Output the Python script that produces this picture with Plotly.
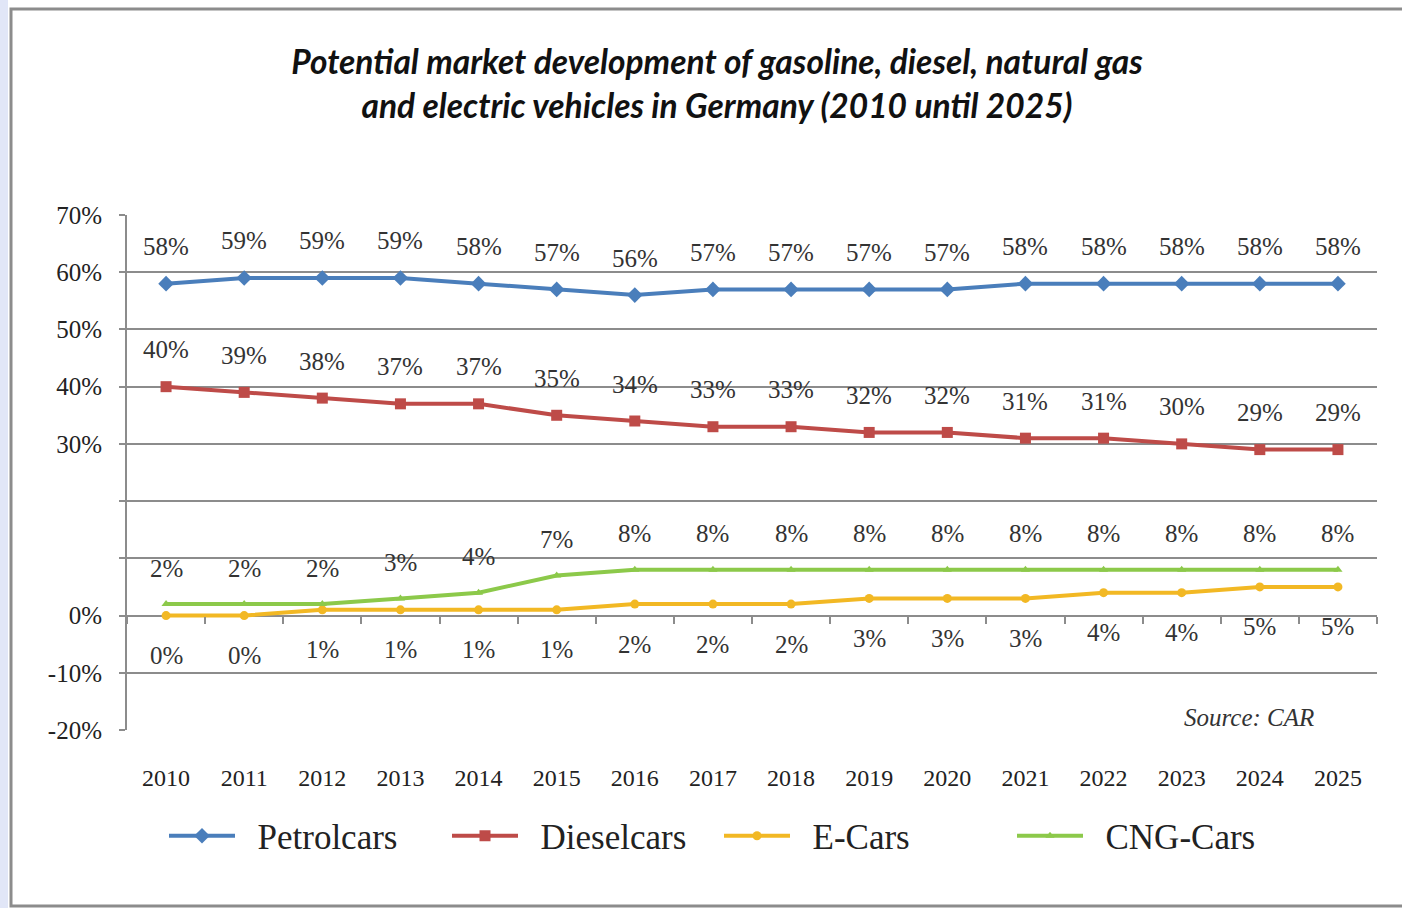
import plotly.graph_objects as go

years = ["2010", "2011", "2012", "2013", "2014", "2015", "2016", "2017",
         "2018", "2019", "2020", "2021", "2022", "2023", "2024", "2025"]
petrol = [58, 59, 59, 59, 58, 57, 56, 57, 57, 57, 57, 58, 58, 58, 58, 58]
diesel = [40, 39, 38, 37, 37, 35, 34, 33, 33, 32, 32, 31, 31, 30, 29, 29]
ecars = [0, 0, 1, 1, 1, 1, 2, 2, 2, 3, 3, 3, 4, 4, 5, 5]
cng = [2, 2, 2, 3, 4, 7, 8, 8, 8, 8, 8, 8, 8, 8, 8, 8]

y_ticks = [-20, -10, 0, 10, 20, 30, 40, 50, 60, 70]
y_ticktext = ["-20%", "-10%", "0%", "", "", "30%", "40%", "50%", "60%", "70%"]

xi = list(range(len(years)))
SERIF = "Liberation Serif, Times New Roman, serif"

series = [
    ("Petrolcars", petrol, "#4a7ebb", "diamond", 12, 37, "legend"),
    ("Dieselcars", diesel, "#be4b48", "square", 11, 37, "legend2"),
    ("E-Cars", ecars, "#f2b824", "circle", 9, -40, "legend3"),
    ("CNG-Cars", cng, "#8cc94a", "triangle-up", 8, 36, "legend4"),
]

fig = go.Figure()
annotations = []
for name, vals, color, sym, msize, shift, leg in series:
    fig.add_trace(go.Scatter(
        x=xi, y=vals, name="&nbsp;&nbsp;" + name, mode="lines+markers",
        line=dict(color=color, width=4),
        marker=dict(symbol=sym, size=msize, color=color),
        legend=leg, hoverinfo="skip",
    ))
    for xv, yv in zip(xi, vals):
        annotations.append(dict(
            x=xv, y=yv, text=f"{yv}%", showarrow=False, yshift=shift,
            font=dict(family=SERIF, size=25, color="#333333"),
        ))

# helper trace for tick marks along the 0% line
fig.add_trace(go.Scatter(x=[0], y=[None], xaxis="x2", yaxis="y",
                         showlegend=False, hoverinfo="skip", mode="markers"))

L, R, T, B = 127, 25, 215, 178
PW, PH = 1402 - L - R, 908 - T - B

def px_x(p):
    return (p - L) / PW

def px_y(p):
    return (908 - B - p) / PH

annotations.append(dict(
    xref="paper", yref="paper", x=px_x(1316), y=px_y(733), xanchor="right", yanchor="bottom",
    text="<i>Source: CAR</i>", showarrow=False,
    font=dict(family=SERIF, size=25, color="#333333"),
))

shapes = [
    dict(type="rect", xref="paper", yref="paper", layer="below",
         x0=px_x(-5), x1=px_x(8), y0=px_y(920), y1=px_y(-10),
         fillcolor="#e1e6f7", line=dict(width=0)),
    dict(type="rect", xref="paper", yref="paper", layer="below",
         x0=px_x(11), x1=px_x(1420), y0=px_y(906), y1=px_y(9),
         fillcolor="white", line=dict(color="#8c8c8c", width=3)),
]

legend_common = dict(orientation="h", yanchor="middle", xanchor="left",
                     bgcolor="rgba(0,0,0,0)", itemwidth=66,
                     font=dict(family=SERIF, size=35, color="#222222"))
legend_x = [164, 447, 719, 1012]

fig.update_layout(
    width=1402, height=908,
    margin=dict(l=L, r=R, t=T, b=B),
    paper_bgcolor="white", plot_bgcolor="white",
    title=dict(
        text="<b><i>Potential market development of gasoline, diesel, natural gas<br>"
             "and electric vehicles in Germany (2010 until 2025)</i></b>",
        x=717 / 1402, xanchor="center", y=1 - 74 / 908, yanchor="top",
        font=dict(family="Lato, Open Sans, sans-serif", size=33.5, color="#111111"),
    ),
    xaxis=dict(range=[-0.5, 15.5], tickvals=xi, ticktext=years, showgrid=False,
               zeroline=False, showline=False, ticks="", ticklabelstandoff=31,
               tickfont=dict(family=SERIF, size=24, color="#222222")),
    xaxis2=dict(range=[-0.5, 15.5], overlaying="x", anchor="free", position=2 / 9,
                tickvals=[i + 0.5 for i in range(-1, 16)], ticks="outside", ticklen=7,
                tickwidth=2, tickcolor="#8c8c8c", showticklabels=False,
                showgrid=False, zeroline=False, showline=False),
    yaxis=dict(range=[-20, 70], tickvals=y_ticks, ticktext=y_ticktext,
               showgrid=True, gridcolor="#8c8c8c", gridwidth=2, zeroline=False,
               showline=True, linecolor="#8c8c8c", linewidth=2,
               ticks="outside", ticklen=6, tickwidth=2, tickcolor="#8c8c8c",
               ticklabelstandoff=12,
               tickfont=dict(family=SERIF, size=25, color="#222222")),
    annotations=annotations,
    shapes=shapes,
    legend=dict(x=px_x(legend_x[0]), y=px_y(836), **legend_common),
    legend2=dict(x=px_x(legend_x[1]), y=px_y(836), **legend_common),
    legend3=dict(x=px_x(legend_x[2]), y=px_y(836), **legend_common),
    legend4=dict(x=px_x(legend_x[3]), y=px_y(836), **legend_common),
)

fig.write_html("out.html", config={"displayModeBar": False},
               post_script="document.body.style.margin='0px';document.body.style.overflow='hidden';")
